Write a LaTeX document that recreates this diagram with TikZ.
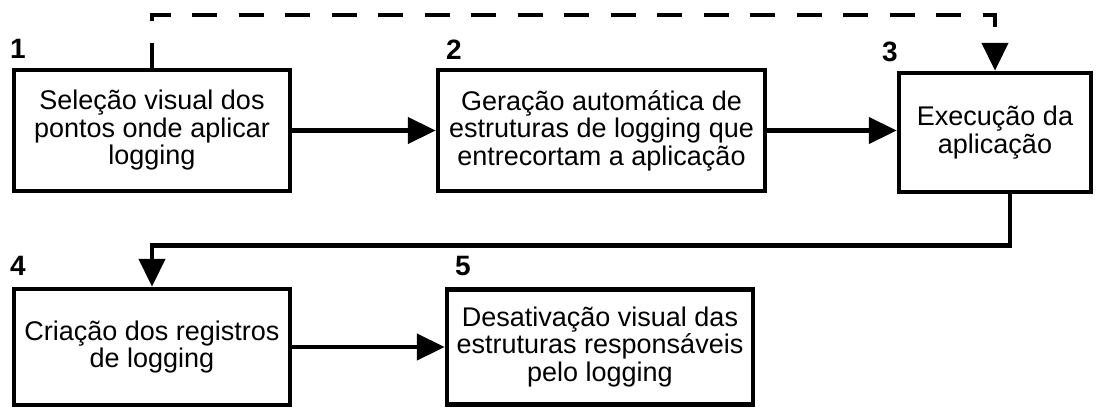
\documentclass[tikz,border=0pt]{standalone}
\usepackage{fontspec}
\setmainfont{Liberation Sans}
\usetikzlibrary{arrows.meta}

\begin{document}
\begin{tikzpicture}[x=1pt,y=-1pt,
    etapa/.style={draw,line width=4.5pt,align=center,inner sep=0pt,
        font=\fontsize{27}{27.5}\selectfont},
    numero/.style={inner sep=0pt,font=\fontsize{28}{28}\selectfont\bfseries},
    seta/.style={line width=4.5pt,-{Triangle[length=28pt,width=26pt]}}]

    \useasboundingbox (0,0) rectangle (1096,410);

    % etapas 1-3
    \node[numero] (n1) at (18,49) {1};
    \node[etapa,minimum width=276,minimum height=121] (selecao) at (152,130.5) {Seleção visual dos\\pontos onde aplicar\\logging};
    \node[numero] (n2) at (454,50) {2};
    \node[etapa,minimum width=327,minimum height=121] (geracao) at (601.5,130.5) {Geração automática de\\estruturas de logging que\\entrecortam a aplicação};
    \node[numero] (n3) at (890,52) {3};
    \node[etapa,minimum width=192,minimum height=119] (execucao) at (995,132.5) {Execução da\\aplicação};

    % etapas 4-5
    \node[numero] (n4) at (18,266) {4};
    \node[etapa,minimum width=276,minimum height=116] (criacao) at (152,347) {Criação dos registros\\de logging};
    \node[numero] (n5) at (463,266) {5};
    \node[etapa,minimum width=306,minimum height=115] (desativacao) at (600,347) {Desativação visual das\\estruturas responsáveis\\pelo logging};

    \draw[seta](selecao.east) -- (geracao.west); % 1 -> 2
    \draw[seta](geracao.east) -- (geracao.east -| execucao.west); % 2 -> 3
    \draw[seta,dash pattern=on 25pt off 21.5pt](selecao.north) -- ++(0,-53) -| (execucao.north); % 1 -> 3 (tracejada)
    \draw[seta]([xshift=15]execucao.south) -- ++(0,51) -| (criacao.north); % 3 -> 4
    \draw[seta](criacao.east) -- (criacao.east -| desativacao.west); % 4 -> 5

\end{tikzpicture}
\end{document}
